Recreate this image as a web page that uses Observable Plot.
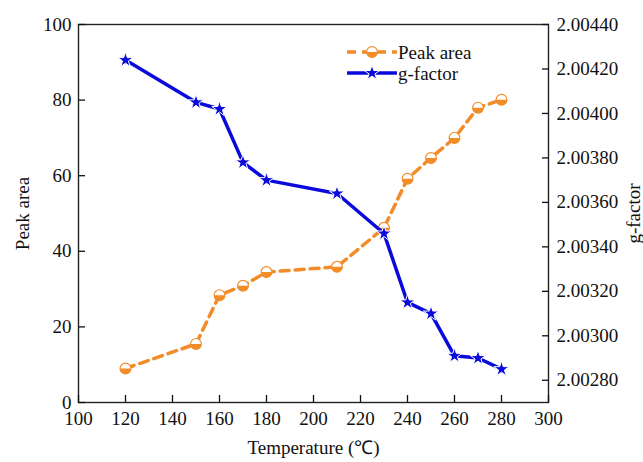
<!DOCTYPE html>
<html><head><meta charset="utf-8">
<script src="https://cdn.jsdelivr.net/npm/d3@7"></script>
<script src="https://cdn.jsdelivr.net/npm/@observablehq/plot@0.6"></script>
<style>
body{margin:0;background:#fff}
#chart svg{font-family:"Liberation Serif","Times New Roman",serif;background:#fff}
</style>
</head><body><div id="chart"></div>
<script>
const temperature = [120, 150, 160, 170, 180, 210, 230, 240, 250, 260, 270, 280];
const peakArea = [9.0, 15.5, 28.4, 30.9, 34.5, 35.9, 46.2, 59.2, 64.7, 70.0, 78.0, 80.1];
const gFactor = [2.00424, 2.00405, 2.00402, 2.00378, 2.00370, 2.00364, 2.00346, 2.00315, 2.00310, 2.00291, 2.00290, 2.00285];
const xTicks = [100, 120, 140, 160, 180, 200, 220, 240, 260, 280, 300];
const leftTicks = [0, 20, 40, 60, 80, 100];
const rightTicks = [2.00280, 2.00300, 2.00320, 2.00340, 2.00360, 2.00380, 2.00400, 2.00420, 2.00440];
const gDomain = [2.00270, 2.00440];
const seriesNames = ["Peak area", "g-factor"];
const xTitle = "Temperature (℃)";

const orange = "#F28C28";
const blue = "#0A0ADC";
const fs = 19;
const serif = '"Liberation Serif", "Times New Roman", serif';

const g2y = d3.scaleLinear(gDomain, [0, 100]);
const rows = temperature.map((t, i) => ({t, peak: peakArea[i], g: gFactor[i]}));

const halfDisc = {
  draw(ctx, size) {
    const r = Math.sqrt(size / Math.PI);
    ctx.moveTo(r, 0);
    ctx.arc(0, 0, r, 0, Math.PI);
    ctx.closePath();
  }
};

const chart = Plot.plot({
  width: 643,
  height: 462,
  marginLeft: 78,
  marginRight: 95,
  marginTop: 24,
  marginBottom: 60,
  style: {fontFamily: serif, fontSize: fs + "px", color: "#111", background: "#fff"},
  x: {domain: [100, 300], label: null},
  y: {domain: [0, 100], label: null},
  marks: [
    Plot.frame({stroke: "#222", strokeWidth: 1.4}),
    Plot.axisX({ticks: xTicks, tickSize: -7, text: null, label: null, strokeWidth: 1.3}),
    Plot.axisX({ticks: xTicks, tickSize: 0, tickPadding: 9, label: null, fontSize: fs}),
    Plot.axisY({ticks: leftTicks, tickSize: -7, text: null, label: null, strokeWidth: 1.3}),
    Plot.axisY({ticks: leftTicks, tickSize: 0, tickPadding: 7, label: null, fontSize: fs}),
    Plot.axisY({anchor: "right", ticks: rightTicks.map(g2y), tickSize: -7, text: null, label: null, strokeWidth: 1.3}),
    Plot.axisY({anchor: "right", ticks: rightTicks.map(g2y), tickSize: 0, tickPadding: 8, label: null, fontSize: fs,
      tickFormat: v => g2y.invert(v).toFixed(5)}),
    Plot.line(rows, {x: "t", y: "peak", stroke: orange, strokeWidth: 3.5, strokeDasharray: "9,6"}),
    Plot.dot(rows, {x: "t", y: "peak", r: 5.4, fill: "white", stroke: orange, strokeWidth: 1.2}),
    Plot.dot(rows, {x: "t", y: "peak", r: 5.4, symbol: halfDisc, fill: orange}),
    Plot.line(rows, {x: "t", y: d => g2y(d.g), stroke: blue, strokeWidth: 3.5}),
    Plot.dot(rows, {x: "t", y: d => g2y(d.g), r: 4.8, symbol: "star", fill: blue, stroke: "white", strokeWidth: 1}),
    Plot.text([xTitle], {frameAnchor: "bottom", dy: 51, fontSize: fs}),
    Plot.text([seriesNames[0]], {frameAnchor: "left", dx: -56, rotate: -90, textAnchor: "middle", lineAnchor: "middle", fontSize: fs}),
    Plot.text([seriesNames[1]], {frameAnchor: "right", dx: 85, rotate: -90, textAnchor: "middle", lineAnchor: "middle", fontSize: fs})
  ]
});

// legend inside plot area
const svg = d3.select(chart);
const leg = svg.append("g");
const lx0 = 347, lx1 = 397, lxm = 372, ly = [52, 73];
leg.append("line").attr("x1", lx0).attr("x2", lx1).attr("y1", ly[0]).attr("y2", ly[0])
  .attr("stroke", orange).attr("stroke-width", 3.5).attr("stroke-dasharray", "9,6");
leg.append("circle").attr("cx", lxm).attr("cy", ly[0]).attr("r", 5.4).attr("fill", "white").attr("stroke", orange).attr("stroke-width", 1.2);
leg.append("path").attr("transform", `translate(${lxm},${ly[0]})`).attr("fill", orange)
  .attr("d", d3.symbol(halfDisc, 5.4 * 5.4 * Math.PI)());
leg.append("line").attr("x1", lx0).attr("x2", lx1).attr("y1", ly[1]).attr("y2", ly[1])
  .attr("stroke", blue).attr("stroke-width", 3.5);
leg.append("path").attr("transform", `translate(${lxm},${ly[1]})`).attr("fill", blue).attr("stroke", "white").attr("stroke-width", 1)
  .attr("d", d3.symbol(d3.symbolStar, 4.8 * 4.8 * Math.PI)());
seriesNames.forEach((n, i) => {
  leg.append("text").attr("x", lx1 + 1).attr("y", ly[i]).attr("dy", "0.35em")
    .attr("text-anchor", "start").attr("font-family", serif)
    .attr("font-size", fs).attr("fill", "#111").text(n);
});

document.getElementById("chart").appendChild(chart);
</script>
</body></html>
